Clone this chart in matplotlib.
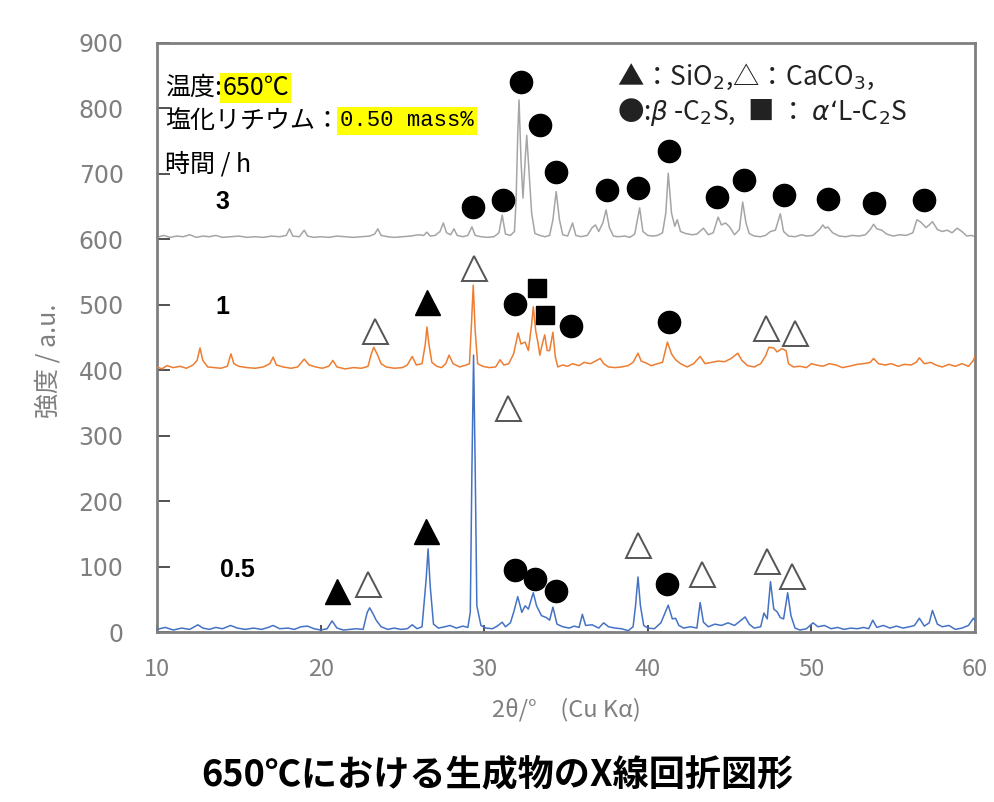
import matplotlib
matplotlib.use("Agg")
import matplotlib.pyplot as plt

plt.rcParams['font.family'] = ['Noto Sans CJK JP', 'DejaVu Sans']
plt.rcParams['mathtext.fontset'] = 'dejavusans'

# ---------------- data ----------------
x_05h = [10.0, 10.5, 11.0, 11.5, 12.0, 12.5, 12.8, 13.2, 13.6, 14.0, 14.5, 14.9, 15.4, 15.9, 16.4, 16.8, 17.1, 17.5,
         18.0, 18.4, 18.8, 19.2, 19.6, 20.0, 20.4, 20.7, 21.0, 21.4, 21.8, 22.2, 22.6, 22.85, 23.0, 23.2, 23.4, 23.7,
         24.1, 24.5, 24.9, 25.3, 25.6, 25.9, 26.2, 26.45, 26.57, 26.7, 26.9, 27.2, 27.6, 27.9, 28.3, 28.7, 29.0,
         29.15, 29.25, 29.35, 29.45, 29.55, 29.8, 30.1, 30.5, 30.8, 31.1, 31.3, 31.6, 31.8, 32.05, 32.3, 32.5, 32.7,
         33.0, 33.2, 33.5, 33.8, 34.0, 34.2, 34.45, 34.8, 35.2, 35.5, 35.8, 36.0, 36.2, 36.6, 37.0, 37.3, 37.6, 38.0,
         38.4, 38.8, 39.1, 39.25, 39.4, 39.55, 39.75, 40.0, 40.4, 40.8, 41.25, 41.5, 41.7, 41.9, 42.2, 42.6, 43.0,
         43.2, 43.4, 43.7, 44.1, 44.5, 44.9, 45.3, 45.7, 45.95, 46.2, 46.5, 46.9, 47.1, 47.3, 47.5, 47.7, 47.9, 48.1,
         48.3, 48.55, 48.75, 49.0, 49.3, 49.7, 50.1, 50.4, 50.8, 51.2, 51.6, 52.0, 52.4, 52.8, 53.2, 53.5, 53.75,
         54.0, 54.4, 54.8, 55.2, 55.6, 56.0, 56.3, 56.6, 56.9, 57.2, 57.4, 57.7, 58.0, 58.4, 58.8, 59.2, 59.6, 59.9, 60.0]
y_05h = [4, 7, 3, 6, 4, 11, 6, 4, 7, 5, 10, 6, 4, 6, 4, 7, 10, 5,
         6, 4, 8, 9, 5, 3, 5, 17, 6, 3, 4, 5, 4, 30, 37, 28, 18, 8,
         4, 6, 4, 5, 11, 5, 8, 80, 127, 70, 12, 6, 8, 10, 6, 9, 7,
         30, 250, 423, 250, 40, 10, 6, 5, 9, 15, 8, 14, 30, 54, 30, 40, 35,
         60, 40, 25, 22, 18, 38, 12, 8, 6, 9, 7, 27, 10, 11, 6, 14, 8, 6,
         5, 2, 8, 40, 84, 40, 10, 6, 5, 14, 41, 20, 21, 10, 6, 8, 6,
         45, 15, 8, 12, 10, 14, 10, 18, 23, 12, 6, 8, 29, 20, 77, 35, 31, 22,
         20, 60, 25, 6, 3, 5, 14, 8, 10, 5, 7, 4, 6, 5, 7, 5, 18,
         7, 10, 6, 9, 6, 8, 10, 21, 9, 14, 33, 12, 8, 10, 4, 6, 10, 21, 18]

x_1h = [10.0, 10.3, 10.6, 11.0, 11.4, 11.8, 12.2, 12.45, 12.63, 12.8, 13.1, 13.5, 13.9, 14.3, 14.52, 14.7, 15.0, 15.5,
        16.0, 16.5, 16.9, 17.1, 17.3, 17.7, 18.2, 18.6, 19.0, 19.3, 19.7, 20.1, 20.5, 20.75, 21.0, 21.5, 22.0, 22.5,
        22.9, 23.1, 23.25, 23.45, 23.7, 24.0, 24.5, 25.0, 25.3, 25.6, 25.85, 26.2, 26.4, 26.5, 26.62, 26.8, 27.1,
        27.4, 27.65, 27.85, 28.1, 28.5, 28.9, 29.1, 29.22, 29.33, 29.45, 29.6, 29.9, 30.3, 30.7, 30.97, 31.2, 31.5,
        31.8, 32.07, 32.25, 32.5, 32.7, 32.9, 33.0, 33.15, 33.3, 33.4, 33.55, 33.7, 33.85, 34.0, 34.2, 34.35, 34.5,
        34.8, 35.1, 35.4, 35.8, 36.1, 36.5, 36.8, 37.1, 37.3, 37.6, 38.0, 38.4, 38.8, 39.1, 39.4, 39.6, 39.9, 40.2,
        40.6, 40.9, 41.2, 41.45, 41.7, 42.0, 42.4, 42.8, 43.2, 43.5, 43.9, 44.3, 44.7, 45.1, 45.5, 45.75, 46.1, 46.5,
        46.9, 47.2, 47.4, 47.7, 47.9, 48.2, 48.45, 48.6, 48.9, 49.3, 49.7, 50.0, 50.3, 50.7, 51.1, 51.5, 51.9, 52.3,
        52.8, 53.2, 53.6, 53.8, 54.1, 54.5, 54.9, 55.3, 55.7, 56.1, 56.4, 56.6, 56.9, 57.3, 57.6, 58.0, 58.4, 58.8,
        59.2, 59.6, 59.9, 60.0]
y_1h = [405, 402, 407, 404, 406, 403, 408, 415, 434, 415, 405, 404, 403, 406, 425, 410, 406, 404,
        403, 405, 410, 420, 408, 405, 403, 405, 417, 408, 405, 403, 406, 415, 405, 402, 404, 403,
        406, 425, 435, 425, 410, 405, 403, 404, 408, 421, 408, 410, 440, 466, 440, 412, 406,
        404, 410, 423, 410, 405, 408, 410, 470, 530, 460, 410, 406, 404, 405, 416, 408, 410,
        425, 457, 440, 443, 430, 470, 497, 460, 440, 423, 440, 454, 430, 430, 458, 420, 405,
        408, 406, 410, 407, 412, 410, 414, 418, 410, 405, 404, 405, 407, 412, 426, 414, 411, 407,
        410, 412, 443, 425, 416, 410, 405, 410, 421, 410, 412, 414, 413, 418, 426, 415, 407, 405,
        410, 422, 435, 434, 428, 433, 430, 410, 405, 406, 404, 410, 408, 406, 410, 408, 404, 406,
        409, 410, 412, 418, 410, 408, 410, 406, 409, 408, 412, 419, 410, 412, 408, 405, 409, 406,
        410, 406, 415, 421]

x_3h = [10.0, 10.4, 10.8, 11.2, 11.6, 12.0, 12.4, 12.8, 13.2, 13.6, 14.0, 14.5, 15.0, 15.5, 16.0, 16.5, 17.0, 17.5,
        17.9, 18.1, 18.3, 18.7, 19.0, 19.2, 19.6, 20.0, 20.5, 21.0, 21.5, 22.0, 22.5, 23.0, 23.3, 23.5, 23.7, 24.1,
        24.5, 25.0, 25.5, 26.0, 26.3, 26.5, 26.7, 27.0, 27.3, 27.5, 27.7, 27.95, 28.15, 28.35, 28.7, 29.0, 29.25,
        29.45, 29.8, 30.2, 30.6, 30.9, 31.1, 31.3, 31.6, 31.85, 31.95, 32.05, 32.13, 32.25, 32.37, 32.5, 32.6, 32.75,
        32.9, 33.1, 33.4, 33.7, 34.0, 34.2, 34.4, 34.6, 34.8, 35.1, 35.4, 35.6, 35.9, 36.3, 36.6, 36.8, 37.0, 37.25,
        37.45, 37.65, 37.9, 38.2, 38.6, 38.9, 39.2, 39.5, 39.7, 40.0, 40.3, 40.6, 40.9, 41.1, 41.25, 41.45, 41.65,
        41.8, 42.0, 42.3, 42.7, 43.0, 43.4, 43.7, 44.0, 44.3, 44.5, 44.75, 45.0, 45.3, 45.6, 45.8, 46.0, 46.2, 46.5,
        46.9, 47.2, 47.5, 47.8, 48.1, 48.3, 48.6, 49.0, 49.4, 49.7, 50.1, 50.5, 50.7, 50.85, 51.0, 51.3, 51.7, 52.1,
        52.5, 52.9, 53.3, 53.6, 53.8, 54.0, 54.3, 54.6, 55.0, 55.4, 55.8, 56.2, 56.45, 56.7, 57.0, 57.2, 57.4, 57.7,
        58.0, 58.3, 58.6, 58.9, 59.2, 59.5, 59.8, 60.0]
y_3h = [603, 606, 603, 605, 604, 607, 603, 605, 604, 606, 603, 604, 605, 603, 604, 603, 605, 604,
        606, 616, 605, 604, 614, 605, 603, 604, 603, 605, 604, 603, 604, 605, 608, 616, 606, 604,
        603, 604, 605, 607, 606, 611, 605, 606, 612, 625, 610, 607, 616, 606, 604, 606, 619,
        606, 604, 603, 604, 610, 637, 608, 606, 612, 660, 760, 813, 720, 663, 720, 759, 700,
        640, 609, 606, 604, 606, 630, 673, 630, 607, 605, 625, 606, 604, 606, 618, 622, 612, 625,
        645, 618, 605, 604, 605, 603, 608, 648, 612, 606, 605, 606, 610, 640, 701, 640, 620,
        630, 612, 609, 607, 608, 617, 607, 610, 634, 622, 625, 619, 607, 615, 657, 625, 609, 605,
        604, 606, 612, 614, 639, 612, 605, 604, 607, 605, 606, 615, 622, 617, 619, 610, 605, 604,
        606, 605, 607, 615, 623, 616, 614, 608, 605, 607, 606, 610, 630, 626, 618, 622, 627, 615,
        612, 614, 610, 617, 612, 605, 606, 604]

# phase markers (2θ, plotted height)
sio2_x = [21.0, 26.45, 26.5]
sio2_y = [63, 155, 505]
caco3_x = [22.9, 31.45, 39.4, 43.3, 47.3, 48.8, 23.3, 29.4, 47.2, 49.0]
caco3_y = [74, 342, 133, 89, 109, 86, 460, 556, 464, 457]
bc2s_x = [31.9, 33.1, 34.4, 41.2, 31.9, 35.3, 41.3,
          29.3, 31.15, 32.25, 33.4, 34.4, 37.5, 39.4, 41.3, 44.2, 45.9, 48.3, 51.0, 53.8, 56.9]
bc2s_y = [95, 80.5, 63, 73, 501, 468, 474,
          649, 660, 840, 775, 703, 675, 678, 735, 665, 690, 668, 662, 656, 660]
ac2s_x = [33.2, 33.7]
ac2s_y = [525, 484]

series_labels = ["0.5", "1", "3"]
label_x = [14.9, 14.0, 14.0]
label_y = [95, 497, 657]

yticks = [0, 100, 200, 300, 400, 500, 600, 700, 800, 900]
xticks = [10, 20, 30, 40, 50, 60]

# ---------------- figure ----------------
fig = plt.figure(figsize=(9.94, 8.02), dpi=100)
ax = fig.add_axes([157/994, 1-632/802, 818/994, 589/802])

ax.plot(x_3h, y_3h, color='#A5A5A5', lw=1.1, zorder=2)
ax.plot(x_1h, y_1h, color='#ED7D31', lw=1.1, zorder=3)
ax.plot(x_05h, y_05h, color='#4472C4', lw=1.1, zorder=4)

ax.plot(sio2_x, sio2_y, ls='none', marker='^', ms=18, mfc='black', mec='black', zorder=5)
ax.plot(caco3_x, caco3_y, ls='none', marker='^', ms=18, mfc='white', mec='#555555', mew=1.4, zorder=5)
ax.plot(bc2s_x, bc2s_y, ls='none', marker='o', ms=16, mfc='black', mec='black', zorder=5)
ax.plot(ac2s_x, ac2s_y, ls='none', marker='s', ms=13, mfc='black', mec='black', zorder=5)

for lab, lx, ly in zip(series_labels, label_x, label_y):
    ax.text(lx, ly, lab, fontsize=18, fontweight='bold', family=['Liberation Sans', 'DejaVu Sans'],
            ha='center', va='center', color='black', zorder=6)

ax.set_xlim(10, 60)
ax.set_ylim(0, 900)
ax.set_xticks(xticks)
ax.set_yticks(yticks)
ax.tick_params(axis='y', direction='in', length=9, width=1.2, color='#333333', pad=24,
               labelsize=17, labelcolor='#7f7f7f')
ax.tick_params(axis='x', direction='in', length=5, width=1.2, color='#333333', pad=19,
               labelsize=17, labelcolor='#7f7f7f')
for t in ax.get_yticklabels():
    t.set_family(['DejaVu Sans'])
for t in ax.get_xticklabels():
    t.set_family(['Liberation Sans Narrow', 'Noto Sans CJK JP'])
for sp in ax.spines.values():
    sp.set_color('#7f7f7f')
    sp.set_linewidth(2)

ax.set_xlabel("2θ/°\u3000(Cu Kα)", fontsize=17, color='#7f7f7f', labelpad=12,
              family=['Noto Sans CJK JP', 'DejaVu Sans'])
ax.text(-0.133, 0.46, "強度 / a.u.", transform=ax.transAxes, rotation=90, ha='center', va='center',
        fontsize=18, color='#7f7f7f')

# info box top-left
info_fs = 18
t1 = ax.text(10.5, 831, "温度:", fontsize=info_fs, va='center', ha='left', color='black')
ax.annotate("650℃", xy=(1, 0.5), xycoords=t1, va='center', ha='left', fontsize=info_fs,
            bbox=dict(facecolor='#FFFF00', edgecolor='none', pad=1.5))
t2 = ax.text(10.5, 781, "塩化リチウム：", fontsize=info_fs, va='center', ha='left', color='black')
ax.annotate("0.50 mass%", xy=(1, 0.5), xycoords=t2, va='center', ha='left', fontsize=16,
            family=['Liberation Mono', 'DejaVu Sans Mono'],
            bbox=dict(facecolor='#FFFF00', edgecolor='none', pad=2.5))
ax.text(10.5, 714, "時間 / h", fontsize=info_fs, va='center', ha='left', color='black')

# phase legend top right
ax.text(38.1, 848, "▲：SiO$_2$,△：CaCO$_3$,", fontsize=19, va='center', ha='left', color='#222222')
ax.text(38.1, 795, "●:$\\beta$ -C$_2$S,  ■ ： $\\alpha$‘L-C$_2$S", fontsize=19, va='center', ha='left',
        color='#222222')

fig.text(0.5, 1-775/802, "650℃における生成物のX線回折図形", fontsize=26, fontweight='bold',
         ha='center', va='center', color='black')

fig.savefig("out.png", dpi=100)
